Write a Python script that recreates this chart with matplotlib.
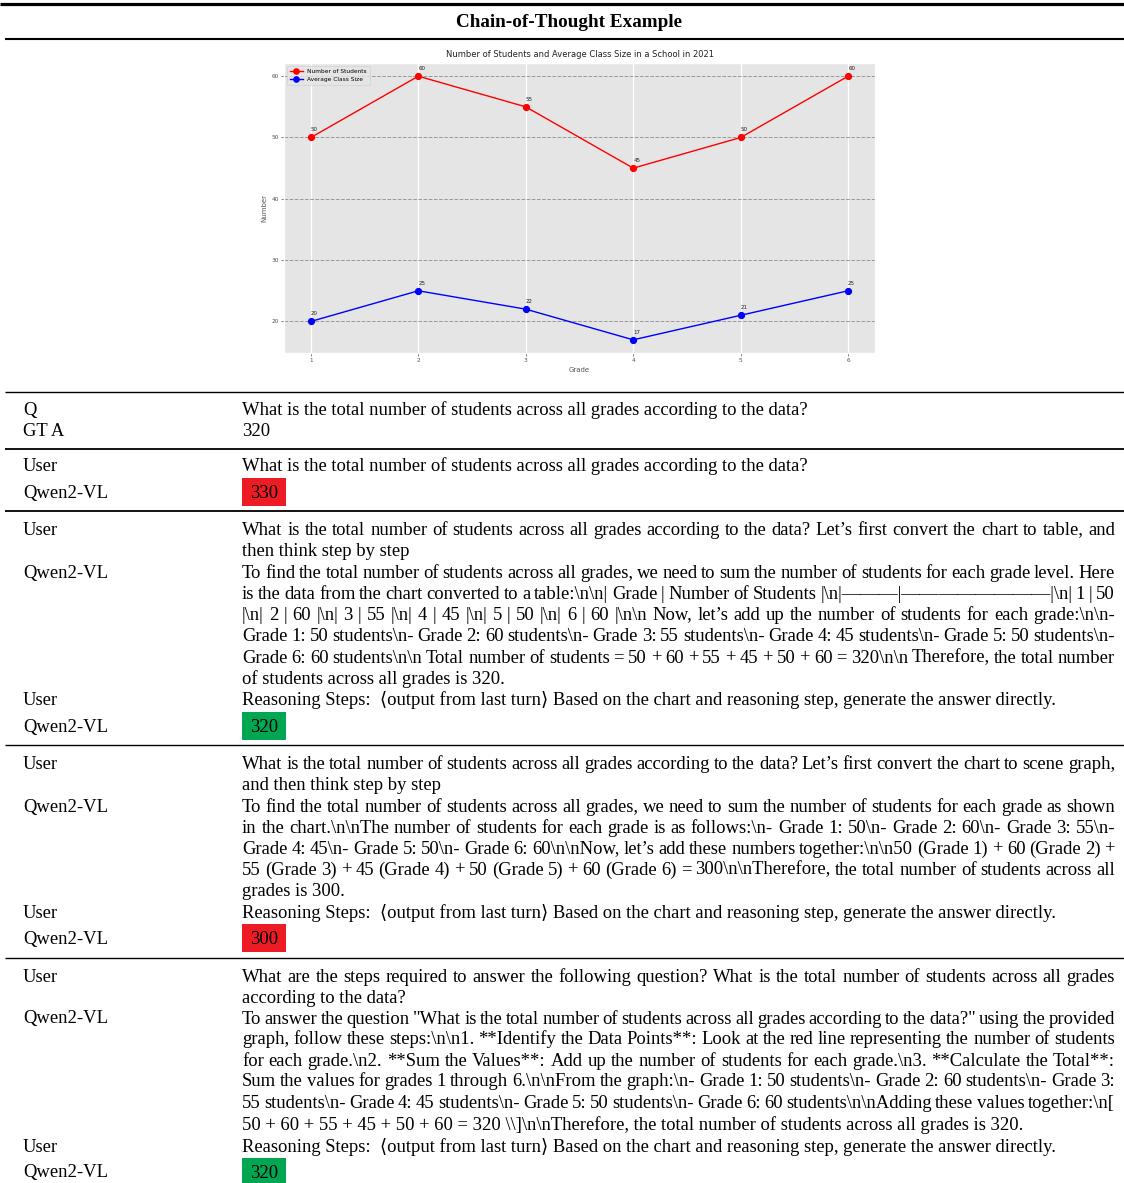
import matplotlib
matplotlib.use("Agg")
import matplotlib.pyplot as plt
from matplotlib.font_manager import FontProperties
from matplotlib.patches import Rectangle

W, H = 1124, 1183

# ---------------- chart data ----------------
grades = [1, 2, 3, 4, 5, 6]
students = [50, 60, 55, 45, 50, 60]
class_size = [20, 25, 22, 17, 21, 25]
yticks = [20, 30, 40, 50, 60]
chart_title = "Number of Students and Average Class Size in a School in 2021"
series_names = ["Number of Students", "Average Class Size"]
series_colors = ["red", "blue"]
x_label = "Grade"
y_label = "Number"

# ---------------- table text ----------------
header = "Chain-of-Thought Example"
question = "What is the total number of students across all grades according to the data?"
gt_answer = "320"
reason_prompt = "Reasoning Steps:  \u27e8output from last turn\u27e9 Based on the chart and reasoning step, generate the answer directly."

# entries: (kind, y_center, text, extra)
entries = [
    ("label", 409, "Q", None),
    ("label", 430, "GT A", None),
    ("text", 409, question, False),
    ("text", 430, gt_answer, False),

    ("label", 465, "User", None),
    ("label", 492, "Qwen2-VL", None),
    ("text", 465, question, False),
    ("box", 492, "330", "#ED1C24"),

    ("label", 529, "User", None),
    ("text", 529, "What is the total number of students across all grades according to the data? Let\u2019s first convert the chart to table, and", True),
    ("text", 550, "then think step by step", False),
    ("label", 572, "Qwen2-VL", None),
    ("text", 572, "To find the total number of students across all grades, we need to sum the number of students for each grade level. Here", True),
    ("text", 593, "is the data from the chart converted to a table:\\n\\n| Grade | Number of Students |\\n|\u2014\u2014\u2014|\u2014\u2014\u2014\u2014\u2014\u2014\u2014\u2014|\\n| 1 | 50", True),
    ("text", 614, "|\\n| 2 | 60 |\\n| 3 | 55 |\\n| 4 | 45 |\\n| 5 | 50 |\\n| 6 | 60 |\\n\\n Now, let\u2019s add up the number of students for each grade:\\n\\n-", True),
    ("text", 635, "Grade 1: 50 students\\n- Grade 2: 60 students\\n- Grade 3: 55 students\\n- Grade 4: 45 students\\n- Grade 5: 50 students\\n-", True),
    ("text", 657, "Grade 6: 60 students\\n\\n Total number of students = 50 + 60 + 55 + 45 + 50 + 60 = 320\\n\\n Therefore, the total number", True),
    ("text", 678, "of students across all grades is 320.", False),
    ("label", 699, "User", None),
    ("text", 699, reason_prompt, False),
    ("label", 726, "Qwen2-VL", None),
    ("box", 726, "320", "#00A651"),

    ("label", 763, "User", None),
    ("text", 763, "What is the total number of students across all grades according to the data? Let\u2019s first convert the chart to scene graph,", True),
    ("text", 784, "and then think step by step", False),
    ("label", 806, "Qwen2-VL", None),
    ("text", 806, "To find the total number of students across all grades, we need to sum the number of students for each grade as shown", True),
    ("text", 827, "in the chart.\\n\\nThe number of students for each grade is as follows:\\n- Grade 1: 50\\n- Grade 2: 60\\n- Grade 3: 55\\n-", True),
    ("text", 848, "Grade 4: 45\\n- Grade 5: 50\\n- Grade 6: 60\\n\\nNow, let\u2019s add these numbers together:\\n\\n50 (Grade 1) + 60 (Grade 2) +", True),
    ("text", 869, "55 (Grade 3) + 45 (Grade 4) + 50 (Grade 5) + 60 (Grade 6) = 300\\n\\nTherefore, the total number of students across all", True),
    ("text", 890, "grades is 300.", False),
    ("label", 912, "User", None),
    ("text", 912, reason_prompt, False),
    ("label", 938, "Qwen2-VL", None),
    ("box", 938, "300", "#ED1C24"),

    ("label", 976, "User", None),
    ("text", 976, "What are the steps required to answer the following question? What is the total number of students across all grades", True),
    ("text", 997, "according to the data?", False),
    ("label", 1018, "Qwen2-VL", None),
    ("text", 1018, "To answer the question \"What is the total number of students across all grades according to the data?\" using the provided", True),
    ("text", 1039, "graph, follow these steps:\\n\\n1. **Identify the Data Points**: Look at the red line representing the number of students", True),
    ("text", 1060, "for each grade.\\n2. **Sum the Values**: Add up the number of students for each grade.\\n3. **Calculate the Total**:", True),
    ("text", 1081, "Sum the values for grades 1 through 6.\\n\\nFrom the graph:\\n- Grade 1: 50 students\\n- Grade 2: 60 students\\n- Grade 3:", True),
    ("text", 1103, "55 students\\n- Grade 4: 45 students\\n- Grade 5: 50 students\\n- Grade 6: 60 students\\n\\nAdding these values together:\\n[", True),
    ("text", 1124, "50 + 60 + 55 + 45 + 50 + 60 = 320 \\\\]\\n\\nTherefore, the total number of students across all grades is 320.", False),
    ("label", 1146, "User", None),
    ("text", 1146, reason_prompt, False),
    ("label", 1172, "Qwen2-VL", None),
    ("box", 1172, "320", "#00A651"),
]

rules = [  # (y, x_start, linewidth)
    (3.5, 0, 2.3),
    (38.5, 5, 1.5),
    (392, 5, 1.0),
    (448.5, 5, 1.3),
    (511, 5, 1.3),
    (745, 5, 1.0),
    (958, 5, 1.0),
]

# ---------------- figure ----------------
fig = plt.figure(figsize=(W / 100, H / 100), dpi=100)
fig.patch.set_facecolor("white")
bg = fig.add_axes([0, 0, 1, 1])
bg.set_xlim(0, W)
bg.set_ylim(H, 0)
bg.axis("off")

renderer = fig.canvas.get_renderer()
serif = ["Liberation Serif", "DejaVu Serif", "DejaVu Sans"]


def width_of(s, fp):
    w, h, d = renderer.get_text_width_height_descent(s, fp, ismath=False)
    return w


# font size fitted so the question line spans the measured width
probe = FontProperties(family=serif, size=10)
fs = 10 * 566.0 / width_of(question, probe)
fp = FontProperties(family=serif, size=fs)
hprobe = FontProperties(family=serif, size=10, weight="bold")
hfs = 10 * 226.0 / width_of(header, hprobe)

BASE = 5.5
X_LABEL, X_TEXT, X_RIGHT = 23, 242, 1115

bg.text(569, 21 + 6, header, fontproperties=FontProperties(family=serif, size=hfs, weight="bold"),
        ha="center", va="baseline")

for y, x0, lw in rules:
    bg.plot([x0, W], [y, y], color="black", lw=lw, solid_capstyle="butt")

for kind, y, txt, extra in entries:
    yb = y + BASE
    if kind == "label":
        bg.text(X_LABEL, yb, txt, fontproperties=fp, ha="left", va="baseline")
    elif kind == "box":
        bg.add_patch(Rectangle((X_TEXT, y - 14), 44, 28, facecolor=extra, edgecolor="none"))
        bg.text(X_TEXT + 22, yb, txt, fontproperties=fp, ha="center", va="baseline")
    else:
        if extra:
            words = txt.split(" ")
            ws = [width_of(w_, fp) for w_ in words]
            gap = (X_RIGHT - X_TEXT - sum(ws)) / (len(words) - 1)
            x = X_TEXT
            for w_, wd in zip(words, ws):
                bg.text(x, yb, w_, fontproperties=fp, ha="left", va="baseline")
                x += wd + gap
        else:
            bg.text(X_TEXT, yb, txt, fontproperties=fp, ha="left", va="baseline")

# ---------------- embedded chart ----------------
ax_l, ax_r, ax_t, ax_b = 284, 875, 63, 353
with plt.style.context("ggplot"):
    ax = fig.add_axes([ax_l / W, 1 - ax_b / H, (ax_r - ax_l) / W, (ax_b - ax_t) / H])
    ax.plot(grades, students, marker="o", color=series_colors[0], lw=1.0, markersize=4.2,
            label=series_names[0])
    ax.plot(grades, class_size, marker="o", color=series_colors[1], lw=1.0, markersize=4.2,
            label=series_names[1])
    for g, v in zip(grades, students):
        ax.text(g, v + 1, str(v), fontsize=4.0, color="#222222")
    for g, v in zip(grades, class_size):
        ax.text(g, v + 1, str(v), fontsize=4.0, color="#222222")
    ax.set_xticks(grades)
    ax.set_yticks(yticks)
    ax.tick_params(labelsize=4.2, length=2, width=0.5, pad=1.5)
    ax.grid(axis="y", linestyle="--", color="#999999", lw=0.7)
    ax.grid(axis="x", color="white", lw=0.9)
    ax.set_title(chart_title, fontsize=6.0, pad=4, color="#222222")
    ax.set_xlabel(x_label, fontsize=5.0, labelpad=3)
    ax.set_ylabel(y_label, fontsize=5.0, labelpad=3)
    ax.legend(loc="upper left", fontsize=4.2, borderpad=0.5, labelspacing=0.5,
              handlelength=2.2, markerscale=0.9)
    ax.set_zorder(5)

fig.savefig("out.png", dpi=100, facecolor="white")
